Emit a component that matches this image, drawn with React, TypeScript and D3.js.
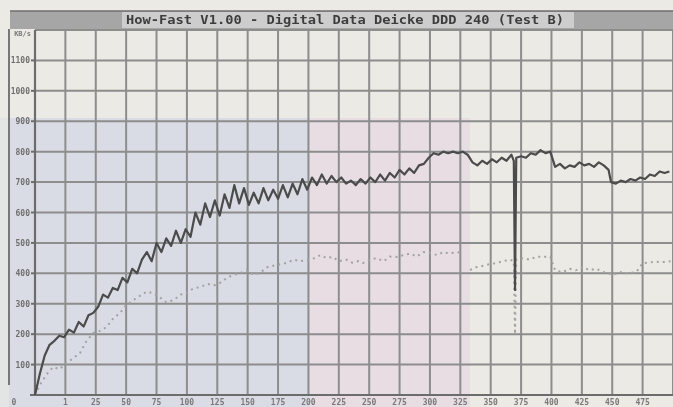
import * as d3 from "d3";

// How-Fast V1.00 transfer-rate plot (photo of an Atari screen)
const title = "How-Fast V1.00 - Digital Data Deicke DDD 240 (Test B)";

// x gridline labels (gridline 0 is the y axis)
const xLabels = ["", "1", "25", "50", "75", "100", "125", "150", "175", "200", "225", "250", "275", "300", "325", "350", "375", "400", "425", "450", "475"];
const yTicks = [100, 200, 300, 400, 500, 600, 700, 800, 900, 1000, 1100];
const yUnit = "KB/s";

// read rate, solid trace [position, KB/s]
const readRate: [number, number][] = [
  [0, 0], [4, 70], [8, 130], [12, 165], [16, 178], [20, 195], [24, 190], [28, 215], [32, 205], [36, 240],
  [40, 225], [44, 262], [48, 270], [52, 290], [56, 330], [60, 320], [64, 352], [68, 345], [72, 385], [76, 370],
  [80, 415], [84, 400], [88, 445], [92, 470], [96, 440], [100, 500], [104, 470], [108, 515], [112, 490], [116, 540],
  [120, 500], [124, 545], [128, 520], [132, 600], [136, 560], [140, 630], [144, 585], [148, 640], [152, 590], [156, 660],
  [160, 615], [164, 690], [168, 630], [172, 680], [176, 625], [180, 665], [184, 630], [188, 680], [192, 640], [196, 675],
  [200, 645], [204, 690], [208, 650], [212, 695], [216, 660], [220, 710], [224, 675], [228, 715], [232, 690], [236, 725],
  [240, 695], [244, 720], [248, 700], [252, 715], [256, 695], [260, 705], [264, 690], [268, 710], [272, 695], [276, 715],
  [280, 700], [284, 725], [288, 705], [292, 730], [296, 715], [300, 740], [304, 725], [308, 745], [312, 730], [316, 755],
  [320, 760], [324, 780], [328, 795], [332, 790], [336, 800], [340, 795], [344, 800], [348, 795], [352, 800], [356, 790],
  [360, 765], [364, 755], [368, 770], [372, 760], [376, 775], [380, 765], [384, 780], [388, 770], [392, 790], [394, 770],
  [395, 345], [396, 780], [400, 785], [404, 780], [408, 795], [412, 790], [416, 805], [420, 795], [424, 800], [428, 750],
  [432, 760], [436, 745], [440, 755], [444, 750], [448, 765], [452, 755], [456, 760], [460, 750], [464, 765], [468, 755],
  [472, 740], [474, 700], [478, 695], [482, 705], [486, 700], [490, 710], [494, 705], [498, 715], [502, 710], [506, 725],
  [510, 720], [514, 735], [518, 730], [522, 735],
];

// write rate, dotted trace (null = gap)
const writeRate: [number, number | null][] = [
  [0, 0], [5, 40], [10, 70], [15, 92], [20, 85], [26, 105], [31, 120], [37, 138], [42, 175], [48, 204],
  [53, 210], [59, 224], [64, 250], [70, 270], [75, 295], [81, 312], [86, 325], [92, 340], [97, 335], [103, 320],
  [108, 305], [114, 312], [120, 330], [125, 335], [130, 350], [136, 355], [142, 365], [147, 360], [152, 368], [158, 385],
  [163, 395], [169, 401], [174, 410], [180, 395], [185, 401], [191, 420], [196, 425], [202, 430], [207, 434], [213, 445],
  [218, 440], [224, 444], [230, 450], [235, 460], [240, 450], [245, 454], [250, 440], [256, 445], [261, 435], [266, 440],
  [270, 434], [276, 445], [281, 450], [287, 440], [292, 455], [298, 454], [303, 460], [309, 465], [314, 455], [320, 470],
  [325, 467], [331, 460], [336, 470], [341, 465], [347, 470], [352, 467], [355, null], [358, 411], [363, 420], [369, 425],
  [374, 430], [380, 434], [385, 440], [391, 445], [394, 440], [395, 200], [396, 445], [402, 450], [407, 445], [413, 455],
  [418, 454], [424, 455], [428, 410], [434, 404], [440, 415], [445, 410], [451, 421], [456, 410], [462, 415], [467, 405],
  [471, 401], [476, 395], [481, 405], [486, 400], [490, 401], [495, 405], [500, 434], [505, 435], [510, 438], [517, 437],
  [523, 440],
];

const W = 673;
const H = 407;
const x = d3.scaleLinear().domain([0, 525]).range([35, 673]);
const y = d3.scaleLinear().domain([0, 1200]).range([395, 30]);

export default function App() {
  const solid = d3.line<[number, number]>().x((d) => x(d[0])).y((d) => y(d[1]))(readRate) ?? "";
  const dotted = d3.line<[number, number | null]>()
    .defined((d) => d[1] != null)
    .x((d) => x(d[0]))
    .y((d) => y(d[1] as number))(writeRate) ?? "";

  const gridX = xLabels.map((_, i) => x(i * 25));
  const mono = "'DejaVu Sans Mono', monospace";

  return (
    <svg width={W} height={H} style={{ position: "absolute", left: 0, top: 0, display: "block" }}>
      <defs>
        <filter id="soft" x="-5%" y="-5%" width="110%" height="110%">
          <feGaussianBlur stdDeviation="0.55" />
        </filter>
      </defs>
      {/* photo tint of the screen */}
      <rect x={0} y={0} width={W} height={H} fill="#ebeae4" />
      <rect x={0} y={118} width={310} height={H - 118} fill="#d9dce4" />
      <rect x={310} y={118} width={160} height={H - 118} fill="#e7dde3" />
      <rect x={0} y={118} width={9} height={H - 118} fill="#e3e4e4" />

      <g filter="url(#soft)">
        {/* title bar */}
        <rect x={10} y={11} width={W - 10} height={18} fill="#a6a6a6" />
        <line x1={10} x2={W} y1={11} y2={11} stroke="#6f6f6f" strokeWidth={1.5} />
        <rect x={122} y={12} width={452} height={16} fill="#cdcdcd" />
        <text x={345} y={24} textAnchor="middle" fontFamily={mono} fontWeight="bold" fontSize={13}
          fill="#3d3d3d" textLength={438} lengthAdjust="spacingAndGlyphs">{title}</text>

        {/* window border */}
        <line x1={9} x2={9} y1={29} y2={385} stroke="#777" strokeWidth={2} />

        {/* grid */}
        {yTicks.concat([1200]).map((t) => (
          <line key={"h" + t} x1={35} x2={W} y1={y(t)} y2={y(t)} stroke="#8d8d8d" strokeWidth={2} />
        ))}
        {gridX.slice(1).concat([x(525)]).map((gx, i) => (
          <line key={"v" + i} x1={gx} x2={gx} y1={30} y2={395} stroke="#8d8d8d" strokeWidth={2} />
        ))}

        {/* axes */}
        <line x1={35} x2={35} y1={30} y2={395} stroke="#6c6c6c" strokeWidth={2.2} />
        <line x1={30} x2={W} y1={395} y2={395} stroke="#6c6c6c" strokeWidth={2.2} />

        {/* y labels */}
        <text x={31} y={36} textAnchor="end" fontFamily={mono} fontSize={7} fontWeight="bold" fill="#777">{yUnit}</text>
        {yTicks.map((t) => (
          <g key={"yl" + t}>
            <line x1={31} x2={35} y1={y(t)} y2={y(t)} stroke="#6c6c6c" strokeWidth={2} />
            <text x={30} y={y(t) + 3} textAnchor="end" fontFamily={mono} fontSize={8} fontWeight="bold" fill="#6e6e6e">{t}</text>
          </g>
        ))}

        {/* x labels */}
        <text x={14} y={405} textAnchor="middle" fontFamily={mono} fontSize={8} fontWeight="bold" fill="#777">0</text>
        {xLabels.map((l, i) => (
          <text key={"xl" + i} x={gridX[i]} y={405} textAnchor="middle" fontFamily={mono} fontSize={8}
            fontWeight="bold" fill="#7a7a7a">{l}</text>
        ))}

        {/* traces */}
        <path d={dotted} fill="none" stroke="#a2a2a2" strokeWidth={2} strokeDasharray="2 4" />
        <path d={solid} fill="none" stroke="#4c4c4c" strokeWidth={2.2} strokeLinejoin="round" />
      </g>
    </svg>
  );
}
